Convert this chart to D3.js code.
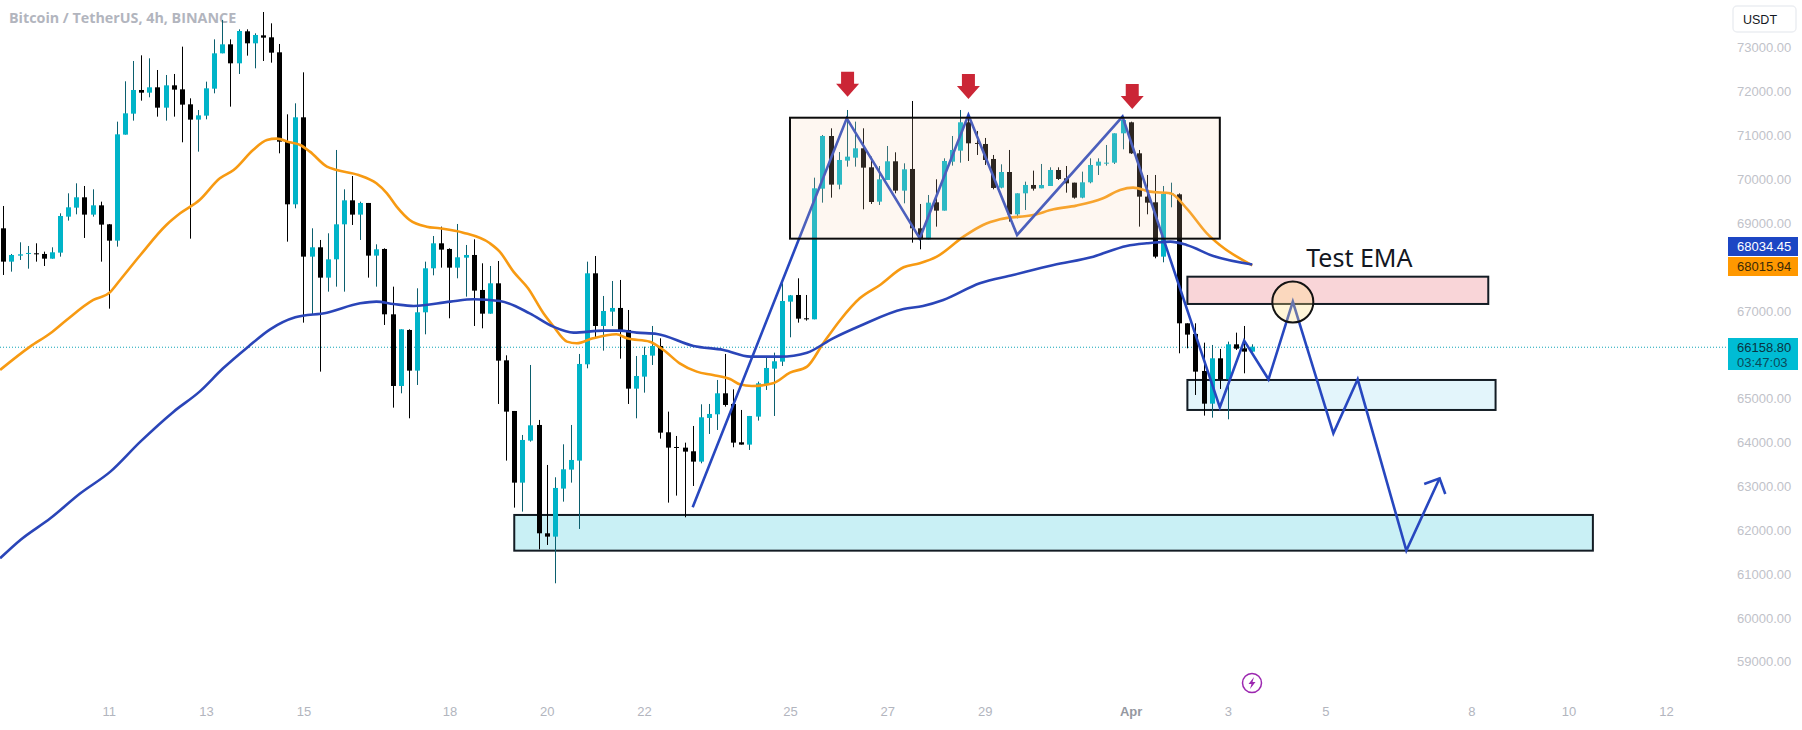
<!DOCTYPE html>
<html><head><meta charset="utf-8">
<script src="https://cdn.jsdelivr.net/npm/d3@7"></script>
<style>
html,body{margin:0;padding:0;background:#fff;overflow:hidden}
svg{display:block}
text{font-family:"Liberation Sans",sans-serif}
</style></head><body><div id="chart"></div>
<script>
const opens=[68859,68099,68236,68281,68289,68274,68167,68304,69125,69330,
69566,69171,69383,68950,68578,70995,71473,72013,71952,72074,
71610,72119,72028,71686,71337,71428,72043,72849,73054,72621,
73351,73077,73259,73214,72872,70843,69406,71390,68213,68426,
67734,68152,68950,69497,69171,69437,68236,68388,66898,65264,
66541,65614,66944,67947,68517,68388,67962,68190,68251,67453,
66913,67605,65849,64694,63060,64018,64375,61905,61829,62924,
63357,63562,65758,67833,66632,66959,67043,66541,65203,65477,
65956,66176,64208,63873,63858,63775,63539,64535,64618,65097,
64854,63980,63927,64565,65310,65659,65819,67187,67339,66807,
66784,69763,70964,69855,70402,70470,70683,70250,69467,69961,
70387,69718,70212,68859,68608,69452,69262,70379,70630,71276,
70805,70782,70440,69786,70143,69178,69657,69847,69771,69824,
70189,69999,69900,69558,69908,70288,70341,70356,71025,71276,
70569,69581,69452,68213,69634,69634,66693,66450,65606,64861,
65895,65416,66214,66123,66047];
const closes=[68099,68251,68266,68297,68281,68167,68312,69140,69338,69566,
69171,69383,68943,68578,71002,71481,72013,71952,72074,71610,
72119,72021,71679,71337,71435,72051,72849,73054,72621,73358,
73077,73267,73206,72864,70835,69406,71390,68213,68426,67734,
68152,68950,69497,69171,69437,68236,68380,66898,65264,66556,
65614,66944,67947,68517,68373,67962,68198,68251,67438,66913,
67605,65842,64679,63060,64033,64367,61905,61829,62939,63364,
63577,65766,67833,66632,66974,67043,66541,65203,65492,65971,
66176,64200,63858,63858,63767,63539,64550,64626,65097,64831,
63972,63927,64580,65325,65675,65827,67202,67331,66799,66784,
69771,70964,69855,70417,70493,70683,70242,69459,69976,70387,
69718,70204,68859,68608,69444,69262,70394,70645,71276,70797,
70789,70417,69779,70143,69178,69657,69847,69763,69847,70189,
69984,69885,69558,69908,70303,70379,70356,71025,71329,70569,
69581,69444,68213,69642,69657,66693,66435,65591,64861,65895,
65416,66214,66115,66047,66158.8];
const highs=[69368,68274,68540,68456,68517,68327,68426,69201,69657,69885,
69824,69748,69467,68958,71291,72211,72674,72803,72735,72469,
72355,72378,73001,71823,71557,72203,73168,73609,73168,73396,
73396,73305,73791,73533,73062,71458,71709,72416,68859,68593,
68745,70645,69748,70052,69467,69437,68494,68403,67529,66556,
66556,67491,68099,68684,68897,68403,68958,68479,68608,68061,
68000,68114,65963,64694,64147,65743,64489,63463,63182,63934,
64375,65994,68099,68228,67316,67658,67681,66997,65948,66161,
66632,66351,64679,64124,63972,64352,64846,64854,65401,65994,
65188,64717,64580,65363,65933,66024,67605,67339,67719,67339,
70014,70987,71139,70599,71557,71291,71139,70493,70280,70736,
70592,70341,71762,69414,69619,69976,70455,70964,71557,71481,
71078,70919,70531,70318,70645,69657,69923,70174,70326,70250,
70250,70280,69900,70151,70455,70455,70759,71025,71405,71291,
70645,70075,70075,69824,69900,69657,66693,66693,66252,66199,
66108,66275,66480,66632,66214];
const lows=[67795,67871,68137,67939,68099,68000,68167,68213,69034,69178,
68639,69125,68099,67027,68441,70995,71314,71770,71846,71405,
71314,71405,70820,68623,70607,71344,71937,72849,71633,72378,
72796,72507,72674,72636,70569,68555,69315,66708,66883,65591,
67415,67529,67415,68935,68593,67734,67529,66655,64770,65097,
64527,65287,66442,67787,67962,66807,67719,67301,66632,66579,
66913,64854,63562,62490,62399,63995,61540,61639,60765,62627,
63060,62004,65667,66351,66070,66632,65887,64854,64527,65112,
65743,64063,62604,62764,62270,62984,63501,64170,64261,64793,
63866,63927,63805,64474,65173,64580,65720,66374,66708,66754,
66784,69444,69558,69748,70265,70265,69292,69414,69391,69961,
69657,69429,68532,68380,68608,68897,69262,70288,70356,70394,
70531,70303,69748,69771,69011,69087,69277,69718,69771,69824,
69961,69672,69535,69543,69885,70075,70288,70326,70660,70554,
68897,69178,68175,68084,69338,66009,66123,65059,64588,64542,
65196,64504,66085,65553,66024];

const emaOrange=[[-0.4,65629],[3.3,66161],[5.8,66465],[7.8,66769],[11.1,67225],[13.1,67392],[14.4,67681],[16.9,68251],[20.1,68935],[21.8,69201],[24.2,69505],[26.7,70000],[28.4,70189],[30.8,70645],[32.5,70873],[33.7,70903],[35.3,70820],[36.6,70759],[37.8,70607],[39.9,70265],[41.1,70189],[43.8,70075],[46,69885],[47.3,69657],[48.5,69353],[50.1,69049],[52.2,68897],[53.8,68859],[56.7,68760],[60,68517],[61.2,68327],[62.9,67871],[64.7,67491],[66.6,66921],[67.8,66632],[69.5,66275],[70.7,66237],[72.7,66351],[75.6,66442],[76.9,66351],[79.7,66275],[81.4,66085],[83.4,65781],[85.5,65591],[87.5,65515],[89.6,65424],[90.8,65302],[92.3,65264],[94.9,65325],[97,65568],[99.1,65705],[101.1,66237],[103.2,66769],[105.6,67263],[108.1,67567],[111,67970],[113,68061],[115.1,68213],[118.4,68669],[120.8,68935],[122.9,69064],[127,69163],[129.5,69292],[132.3,69376],[135.6,69543],[137.7,69733],[139.3,69786],[141.4,69695],[143.9,69657],[145.9,69315],[148.4,68745],[150,68479],[154,68015.94]];
const emaBlue=[[-0.4,61335],[2.1,61753],[5.8,62247],[9.5,62817],[13.2,63311],[16.9,63995],[21,64679],[24.2,65135],[27.1,65667],[30.2,66161],[32.9,66556],[36,66830],[39.9,66936],[44,67149],[46,67187],[48.1,67134],[50.6,67088],[55.1,67187],[58,67240],[61.2,67202],[64.9,66921],[67.8,66617],[70.3,66480],[74,66526],[76,66526],[78.1,66480],[80.6,66450],[85.1,66176],[88.8,66085],[92.1,65933],[95.8,65933],[99.1,66024],[102.3,66351],[105.6,66632],[111,67020],[113.4,67088],[115.9,67225],[120.4,67605],[124.5,67795],[129.5,68023],[134.4,68213],[138.5,68456],[141,68517],[143.9,68555],[145.9,68479],[149.2,68228],[154,68034.45]];

const pathPoints=[[85,62498],[104,71367],[113,68631],[119,71443],[125,68707],[138,71405],[150,64778],[153,66298],[156,65416],[159,67187],[164,64185],[167,65416],[173,61510],[177.1,63159]];
const arrowHead=[[175.2,63030],[177.1,63159],[177.8,62802]];
const zones=[{i0:146,i1:183.1,top:67756,bottom:67134,fill:"#f9d5d8"},{i0:146,i1:184,top:65401,bottom:64717,fill:"#e3f5fb"},{i0:63,i1:196,top:62323,bottom:61509,fill:"#c9f0f5"}];
const rangeBox={i0:97,i1:150,top:71381,bottom:68623};
const redArrows=[[104.1,71860],[119,71808],[139.2,71580]];
const testCircle=[159,67179];
const testLabel={i:167.2,price:67970,text:"Test EMA"};

const yTicks=[73000,72000,71000,70000,69000,67000,65000,64000,63000,62000,61000,60000,59000];
const xTickIdx=[13,25,37,55,67,79,97,109,121,139,151,163,181,193,205];
const xTickLabels=["11","13","15","18","20","22","25","27","29","Apr","3","5","8","10","12"];
const lastPrice=66158.80;
const tags=[{y:246.5,text:"68034.45",bg:"#1c46c4",fg:"#fff"},{y:266.5,text:"68015.94",bg:"#ff9800",fg:"#3a2a08"}];

const W=1802,H=730;
const svg=d3.select("#chart").append("svg").attr("width",W).attr("height",H);
svg.append("rect").attr("width",W).attr("height",H).attr("fill","#fff");
const x=d3.scaleLinear().domain([0,154]).range([3.33,3.33+8.11*154]);
const y=d3.scaleLinear().domain([73000,59000]).range([46.7,660.7]);

const px=d=>x(d[0]), py=d=>y(d[1]);

// zones under candles
svg.append("g").selectAll("rect").data(zones).join("rect")
 .attr("x",d=>x(d.i0)).attr("width",d=>x(d.i1)-x(d.i0))
 .attr("y",d=>y(d.top)).attr("height",d=>y(d.bottom)-y(d.top))
 .attr("fill",d=>d.fill).attr("stroke","#131c24").attr("stroke-width",2);

// price line
svg.append("line").attr("x1",0).attr("x2",1728).attr("y1",y(lastPrice)+.5).attr("y2",y(lastPrice)+.5)
 .attr("stroke","#10a5b8").attr("stroke-width",1).attr("stroke-dasharray","1 2");

// title
svg.append("text").attr("x",9).attr("y",23).attr("fill","#b2b5be")
 .style("font-family","'Open Sans',sans-serif").style("font-size","14.3px").style("font-weight",700)
 .text("Bitcoin / TetherUS, 4h, BINANCE");

// candles
const idx=d3.range(opens.length);
const candles=svg.append("g");
candles.selectAll("line").data(idx).join("line")
 .attr("x1",i=>Math.round(x(i))+.5).attr("x2",i=>Math.round(x(i))+.5)
 .attr("y1",i=>y(highs[i])).attr("y2",i=>y(lows[i]))
 .attr("stroke",i=>closes[i]>=opens[i]?"#0b5f6e":"#000").attr("stroke-width",1);
candles.selectAll("rect").data(idx).join("rect")
 .attr("x",i=>Math.round(x(i))-2).attr("width",5)
 .attr("y",i=>y(Math.max(opens[i],closes[i])))
 .attr("height",i=>Math.max(1,Math.abs(y(opens[i])-y(closes[i]))))
 .attr("fill",i=>closes[i]>=opens[i]?"#00b4c8":"#000");

// EMAs
const ln=d3.line().x(px).y(py).curve(d3.curveMonotoneX);
svg.append("path").attr("d",ln(emaOrange)).attr("fill","none").attr("stroke","#f79a12").attr("stroke-width",2.6);
svg.append("path").attr("d",ln(emaBlue)).attr("fill","none").attr("stroke","#2a45b8").attr("stroke-width",2.6);

// projected path
const seg=d3.line().x(px).y(py);
svg.append("path").attr("d",seg(pathPoints)).attr("fill","none").attr("stroke","#2747bf").attr("stroke-width",2.6).attr("stroke-linejoin","miter");
svg.append("path").attr("d",seg(arrowHead)).attr("fill","none").attr("stroke","#2747bf").attr("stroke-width",2.6);

// translucent range box over candles
svg.append("rect").attr("x",x(rangeBox.i0)).attr("width",x(rangeBox.i1)-x(rangeBox.i0))
 .attr("y",y(rangeBox.top)).attr("height",y(rangeBox.bottom)-y(rangeBox.top))
 .attr("fill","rgb(250,211,178)").attr("fill-opacity",.18);
svg.append("rect").attr("x",x(rangeBox.i0)).attr("width",x(rangeBox.i1)-x(rangeBox.i0))
 .attr("y",y(rangeBox.top)).attr("height",y(rangeBox.bottom)-y(rangeBox.top))
 .attr("fill","none").attr("stroke","#0b0b0b").attr("stroke-width",2);

// circle
svg.append("circle").attr("cx",x(testCircle[0])).attr("cy",y(testCircle[1])).attr("r",20.5)
 .attr("fill","rgb(255,225,130)").attr("fill-opacity",.3).attr("stroke","#131313").attr("stroke-width",2);

// red arrows
svg.append("g").selectAll("path").data(redArrows).join("path")
 .attr("transform",d=>`translate(${x(d[0])},${y(d[1])})`)
 .attr("d","M-6.5,-25 H6.5 V-13 H11.5 L0,0 L-11.5,-13 H-6.5 Z").attr("fill","#cb2636");

// label
svg.append("text").attr("x",x(testLabel.i)).attr("y",y(testLabel.price)).attr("text-anchor","middle")
 .attr("fill","#131722").style("font-family","'Noto Sans',sans-serif").style("font-size","25px").text(testLabel.text);

// axes
const axY=svg.append("g").attr("transform","translate(1733,1)")
 .call(d3.axisRight(y).tickValues(yTicks).tickSize(0).tickPadding(4).tickFormat(d=>d3.format(".2f")(d)));
axY.select(".domain").remove();
axY.selectAll("text").attr("fill","#bfc2c9").style("font-size","13px").style("font-family","'Liberation Sans',sans-serif");

const axB=svg.append("g").attr("transform","translate(0,707)")
 .call(d3.axisBottom(x).tickValues(xTickIdx).tickSize(0).tickPadding(0).tickFormat((d,i)=>xTickLabels[i]));
axB.select(".domain").remove();
axB.selectAll("text").attr("fill",(d,i)=>xTickLabels[i]==="Apr"?"#9598a1":"#b2b5be").style("font-size","13px")
 .style("font-weight",(d,i)=>xTickLabels[i]==="Apr"?600:400).style("font-family","'Liberation Sans',sans-serif");

// tags
tags.forEach(t=>{
 svg.append("rect").attr("x",1728).attr("y",t.y-9.5).attr("width",70).attr("height",19).attr("fill",t.bg);
 svg.append("text").attr("x",1737).attr("y",t.y+4.5).attr("fill",t.fg).style("font-size","13px").text(t.text);
});
svg.append("rect").attr("x",1728).attr("y",338).attr("width",70).attr("height",32).attr("fill","#00bcd4");
svg.append("text").attr("x",1737).attr("y",352).attr("fill","#0a3442").style("font-size","13px").text("66158.80");
svg.append("text").attr("x",1737).attr("y",367).attr("fill","#0a4a5a").style("font-size","13px").text("03:47:03");

// USDT button
svg.append("rect").attr("x",1733).attr("y",6).attr("width",63).attr("height",26).attr("rx",4)
 .attr("fill","#fff").attr("stroke","#eceef2").attr("stroke-width",1.5);
svg.append("text").attr("x",1743).attr("y",24).attr("fill","#131722").style("font-size","12.5px").text("USDT");

// lightning
const bolt=svg.append("g").attr("transform","translate(1252,683)");
bolt.append("circle").attr("r",9.5).attr("fill","#fff").attr("stroke","#9c27b0").attr("stroke-width",1.5);
bolt.append("path").attr("d","M2,-6 L-3.5,1 H-0.5 L-2,6 L3.5,-1 H0.5 Z").attr("fill","#9c27b0");
</script></body></html>
